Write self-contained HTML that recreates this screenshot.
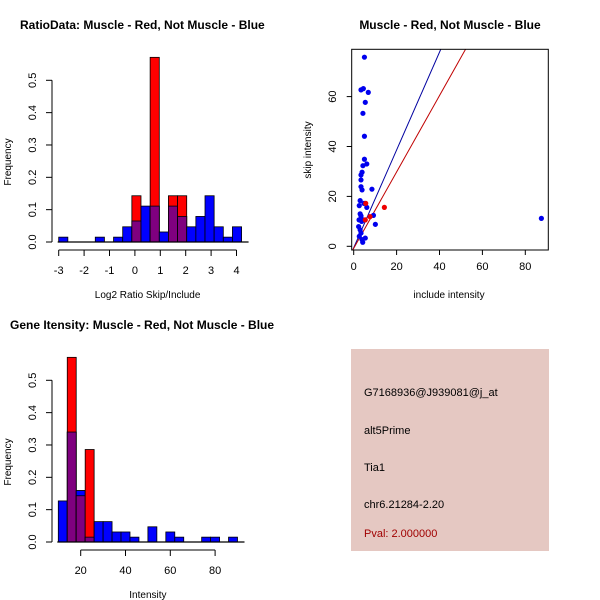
<!DOCTYPE html>
<html><head><meta charset="utf-8"><style>
body{margin:0;background:#fff;}
svg{display:block;font-family:"Liberation Sans",sans-serif;}
</style></head><body>
<svg id="c" width="600" height="600" xmlns="http://www.w3.org/2000/svg">
<text x="20" y="29" font-size="12" font-weight="bold">RatioData: Muscle - Red, Not Muscle - Blue</text>
<text x="450" y="29" font-size="12" font-weight="bold" text-anchor="middle">Muscle - Red, Not Muscle - Blue</text>
<text x="10" y="329" font-size="12" font-weight="bold">Gene Itensity: Muscle - Red, Not Muscle - Blue</text>
<g id="h1"></g>
<g id="sc"></g>
<g id="h2"></g>
<g>
<rect x="351" y="349" width="198" height="202" fill="#e5c8c2"/>
<text x="364" y="396" font-size="11">G7168936@J939081@j_at</text>
<text x="364" y="434" font-size="11">alt5Prime</text>
<text x="364" y="471" font-size="11">Tia1</text>
<text x="364" y="508" font-size="11">chr6.21284-2.20</text>
<text x="364" y="537" font-size="11" fill="#a00000">Pval: 2.000000</text>
</g>
</svg>
<script>
// Ratio histogram data (20 bins, -3 to 4.2)
const ratioBreakStart = -3;
const ratioBinWidth = 0.36;
const ratioBlue = [0.015,0,0,0,0.015,0,0.015,0.047,0.065,0.111,0.111,0.031,0.111,0.079,0.047,0.079,0.143,0.047,0.015,0.047];
const ratioRed  = [0,0,0,0,0,0,0,0,0.143,0,0.571,0,0.143,0.143,0,0,0,0,0,0];
const ratioXTicks = [-3,-2,-1,0,1,2,3,4];
const freqTicks = [0,0.1,0.2,0.3,0.4,0.5];
// Intensity histogram data (bins width 4 from 10)
const intBreakStart = 10;
const intBinWidth = 4;
const intBlue = [0.127,0.34,0.159,0.015,0.063,0.063,0.031,0.031,0.015,0,0.047,0,0.031,0.015,0,0,0.015,0.015,0,0.015];
const intRed  = [0,0.571,0.143,0.286,0,0,0,0,0,0,0,0,0,0,0,0,0,0,0,0];
const intXTicks = [20,40,60,80];
// Scatter data
const blueInclude = [5.0,3.4,4.5,6.8,5.4,4.3,5.0,5.0,6.1,4.3,3.9,3.4,3.4,3.4,3.9,8.5,3.0,4.8,2.6,6.1,3.0,3.4,9.2,2.5,3.7,4.5,10.1,2.3,3.0,3.4,2.6,3.9,5.4,4.2,87.5];
const blueSkip    = [75.8,62.7,63.2,61.7,57.7,53.3,44.1,34.9,33.0,32.3,29.7,28.6,26.6,23.9,22.6,22.9,18.3,17.2,16.3,15.6,13.0,12.2,12.4,10.6,10.0,10.6,8.8,7.9,6.6,5.3,4.0,2.7,3.3,1.6,11.2];
const redInclude = [5.6,7.6,14.3,5.4];
const redSkip    = [17.2,11.9,15.6,10.6];
const sxTicks = [0,20,40,60,80];
const syTicks = [0,20,40,60];
const blueLine = [-0.6,1.96];
const redLine = [-0.8,1.53];

const NS="http://www.w3.org/2000/svg";
function mk(parent,tag,attrs){const e=document.createElementNS(NS,tag);for(const k in attrs)e.setAttribute(k,attrs[k]);parent.appendChild(e);return e;}

function hist(g,y0,xScale,breakStart,bw,blue,red,xTicks,xlab,axisMin,axisMax){
  const yS=v=>y0-v*323.4;
  for(let i=0;i<blue.length;i++){
    const xa=xScale(breakStart+i*bw), xb=xScale(breakStart+(i+1)*bw);
    const b=blue[i], r=red[i];
    if(b>0){const e=mk(g,'rect',{x:xa,y:yS(b),width:xb-xa,height:y0-yS(b),fill:'#0000ff',stroke:'#000','stroke-width':0.8});
      }
    if(r>0){const e=mk(g,'rect',{x:xa,y:yS(r),width:xb-xa,height:y0-yS(r),fill:'#ff0000',stroke:'#000','stroke-width':0.8});
      }
    if(r>0&&b>0){const m=Math.min(r,b);
      if(b>r){const e=mk(g,'rect',{x:xa,y:yS(b),width:xb-xa,height:y0-yS(b),fill:'#0000ff',stroke:'#000','stroke-width':0.8});}
      const e=mk(g,'rect',{x:xa,y:yS(m),width:xb-xa,height:y0-yS(m),fill:'#7f007f',stroke:'#000','stroke-width':0.8});
      }
  }
  mk(g,'line',{x1:xScale(breakStart)-1,x2:xScale(breakStart+blue.length*bw)+7,y1:y0,y2:y0,stroke:'#000','stroke-width':1.2});
  // y axis
  mk(g,'line',{x1:52,x2:52,y1:yS(0),y2:yS(0.5),stroke:'#000'});
  freqTicks.forEach(t=>{mk(g,'line',{x1:46,x2:52,y1:yS(t),y2:yS(t),stroke:'#000'});
    const tx=mk(g,'text',{x:0,y:0,'font-size':11,'text-anchor':'middle',transform:`translate(36,${yS(t)}) rotate(-90)`});tx.textContent=t.toFixed(1);
    });
  const yl=mk(g,'text',{'font-size':10,'text-anchor':'middle',transform:`translate(11,${y0-80}) rotate(-90)`});yl.textContent='Frequency';
  
  const ya=y0+8;
  mk(g,'line',{x1:xScale(axisMin),x2:xScale(axisMax),y1:ya,y2:ya,stroke:'#000'});
  xTicks.forEach(t=>{mk(g,'line',{x1:xScale(t),x2:xScale(t),y1:ya,y2:ya+6,stroke:'#000'});
    const tx=mk(g,'text',{x:xScale(t),y:ya+24,'font-size':11,'text-anchor':'middle'});tx.textContent=t;
    });
  const xl=mk(g,'text',{x:xScale((axisMin+axisMax)/2),y:y0+56,'font-size':10,'text-anchor':'middle'});xl.textContent=xlab;
  
}
const h1x=v=>58.7+(v+3)*25.4;
hist(document.getElementById('h1'),242,h1x,ratioBreakStart,ratioBinWidth,ratioBlue,ratioRed,ratioXTicks,'Log2 Ratio Skip/Include',-3,4);
const h2x=v=>80.7+(v-20)*2.24;
hist(document.getElementById('h2'),542,h2x,intBreakStart,intBinWidth,intBlue,intRed,intXTicks,'Intensity',20,80);

// scatter
const sc=document.getElementById('sc');
const sx=v=>353.7+v*2.145, sy=v=>246.3-v*2.495;
const L=351.7,R=548.3,T=49.3,B=250;
const defs=mk(sc,'clipPath',{id:'clp'});mk(defs,'rect',{x:L,y:T,width:R-L,height:B-T});
function ln(p,color,name){const x1=-1,x2=90;
  const e=mk(sc,'line',{x1:sx(x1),y1:sy(p[0]+p[1]*x1),x2:sx(x2),y2:sy(p[0]+p[1]*x2),stroke:color,'stroke-width':1,'clip-path':'url(#clp)'});
  }
ln(blueLine,'#0000a0','blue-fit-line');ln(redLine,'#c00000','red-fit-line');
blueInclude.forEach((v,i)=>{const e=mk(sc,'circle',{cx:sx(v),cy:sy(blueSkip[i]),r:2.6,fill:'#0000ee'});
  });
redInclude.forEach((v,i)=>{const e=mk(sc,'circle',{cx:sx(v),cy:sy(redSkip[i]),r:2.6,fill:'#ee0000'});
  });
mk(sc,'rect',{x:L,y:T,width:R-L,height:B-T,fill:'none',stroke:'#000'});
sxTicks.forEach(t=>{mk(sc,'line',{x1:sx(t),x2:sx(t),y1:B,y2:B+5,stroke:'#000'});
  const tx=mk(sc,'text',{x:sx(t),y:B+20,'font-size':11,'text-anchor':'middle'});tx.textContent=t;
  });
syTicks.forEach(t=>{mk(sc,'line',{x1:L-5,x2:L,y1:sy(t),y2:sy(t),stroke:'#000'});
  const tx=mk(sc,'text',{'font-size':11,'text-anchor':'middle',transform:`translate(336,${sy(t)}) rotate(-90)`});tx.textContent=t;
  });
const sxl=mk(sc,'text',{x:449,y:298,'font-size':10,'text-anchor':'middle'});sxl.textContent='include intensity';

const syl=mk(sc,'text',{'font-size':10,'text-anchor':'middle',transform:'translate(311,150) rotate(-90)'});syl.textContent='skip intensity';

</script>
</body></html>
